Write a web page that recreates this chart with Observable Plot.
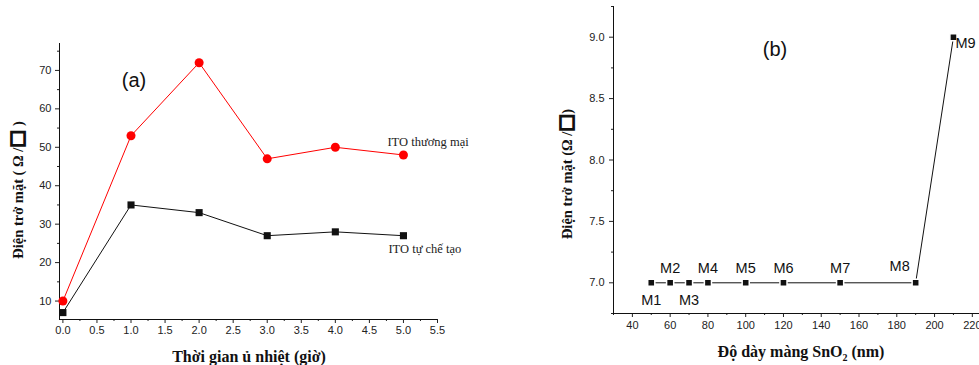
<!DOCTYPE html>
<html><head><meta charset="utf-8">
<script src="https://cdn.jsdelivr.net/npm/d3@7"></script>
<script src="https://cdn.jsdelivr.net/npm/@observablehq/plot@0.6"></script>
<style>
body{margin:0;background:#fff;overflow:hidden;}
#wrap{position:relative;width:979px;height:365px;overflow:hidden;background:#fff;}
.pane{position:absolute;top:0;}
.t{position:absolute;white-space:nowrap;color:#111;}
.ttl{font-family:"Liberation Serif","Times New Roman",serif;font-weight:bold;font-size:14.5px;}
.xt{font-size:16px;}
.rot{transform:translate(-50%,-50%) rotate(-90deg);}
.ctr{transform:translate(-50%,-50%);}
.box{font-family:"DejaVu Sans",sans-serif;font-size:19px;font-weight:bold;line-height:14px;-webkit-text-stroke:1.6px #111;}
.pl{font-family:"Liberation Sans",Arial,sans-serif;font-size:20px;}
</style></head>
<body>
<div id="wrap">
  <div id="pa" class="pane" style="left:0"></div>
  <div id="pb" class="pane" style="left:480px"></div>
  <div class="t ttl rot" style="left:18px;top:190px">Điện trở mặt ( Ω /<span class="box">□</span> )</div>
  <div class="t ttl xt ctr" style="left:249px;top:357px">Thời gian ủ nhiệt (giờ)</div>
  <div class="t pl ctr" style="left:134px;top:80px">(a)</div>
  <div class="t ttl rot" style="left:567px;top:174px">Điện trở mặt (Ω /<span class="box">□</span>)</div>
  <div class="t ttl xt ctr" style="left:801px;top:353px">Độ dày màng SnO<sub style="font-size:10px">2</sub> (nm)</div>
  <div class="t pl ctr" style="left:775px;top:49px">(b)</div>
</div>
<script>
// ---- Panel (a) data ----
const hours = [0, 1, 2, 3, 4, 5];
const commercialITO = [10, 53, 72, 47, 50, 48];
const homemadeITO = [7, 35, 33, 27, 28, 27];
const seriesNamesA = ["ITO thương mại", "ITO tự chế tạo"];
const xTicksA = [0, 0.5, 1, 1.5, 2, 2.5, 3, 3.5, 4, 4.5, 5, 5.5];
const yTicksA = [10, 20, 30, 40, 50, 60, 70];

// ---- Panel (b) data ----
const sampleNames = ["M1", "M2", "M3", "M4", "M5", "M6", "M7", "M8", "M9"];
const thickness = [50, 60, 70, 80, 100, 120, 150, 190, 210];
const resistance = [7.0, 7.0, 7.0, 7.0, 7.0, 7.0, 7.0, 7.0, 9.0];
const labelSide = ["below", "above", "below", "above", "above", "above", "above", "aboveleft", "right"];
const xTicksB = [40, 60, 80, 100, 120, 140, 160, 180, 200, 220];
const yTicksB = [7.0, 7.5, 8.0, 8.5, 9.0];

const font = "'Liberation Sans', Arial, sans-serif";
const serif = "'Liberation Serif', 'Times New Roman', serif";

const rowsA = hours.map((h, i) => ({h, c: commercialITO[i], m: homemadeITO[i]}));
const xDomA = [-0.05, 5.5], yDomA = [5.2, 77];
const minorXA = d3.range(0.25, 5.5, 0.5);
const minorYA = d3.range(15, 77, 10);

const plotA = Plot.plot({
  width: 480, height: 365,
  marginLeft: 59, marginRight: 43, marginTop: 43, marginBottom: 46,
  x: {domain: xDomA}, y: {domain: yDomA},
  style: {fontFamily: font, fontSize: "11px", color: "#222", background: "transparent"},
  marks: [
    Plot.axisX({ticks: xTicksA, tickSize: 4, tickPadding: 3, tickFormat: d => d.toFixed(1), label: null}),
    Plot.axisX({ticks: minorXA, tickSize: 2, text: null, label: null}),
    Plot.axisY({ticks: yTicksA, tickSize: 4, tickPadding: 4, label: null}),
    Plot.axisY({ticks: minorYA, tickSize: 2, text: null, label: null}),
    Plot.ruleX([xDomA[0]], {stroke: "#111"}),
    Plot.ruleY([yDomA[0]], {stroke: "#111"}),
    Plot.line(rowsA, {x: "h", y: "c", stroke: "#ff0000", strokeWidth: 1}),
    Plot.line(rowsA, {x: "h", y: "m", stroke: "#111", strokeWidth: 1}),
    Plot.dot(rowsA, {x: "h", y: "c", r: 4.5, fill: "#ff0000", stroke: "none"}),
    Plot.dot(rowsA, {x: "h", y: "m", r: 4, symbol: "square", fill: "#111", stroke: "none"}),
    Plot.text([rowsA[rowsA.length - 1]], {x: "h", y: "c", text: () => seriesNamesA[0], textAnchor: "start", dx: -16, dy: -13, fontFamily: serif, fontSize: 12.5, fill: "#222"}),
    Plot.text([rowsA[rowsA.length - 1]], {x: "h", y: "m", text: () => seriesNamesA[1], textAnchor: "start", dx: -15, dy: 13, fontFamily: serif, fontSize: 12.5, fill: "#222"})
  ]
});
document.getElementById("pa").appendChild(plotA);

const rowsB = sampleNames.map((n, i) => ({n, t: thickness[i], r: resistance[i], side: labelSide[i]}));
const xDomB = [30, 223.8], yDomB = [6.75, 9.25];
const minorXB = d3.range(30, 224, 20);
const minorYB = d3.range(6.75, 9.3, 0.5);
const lab = (side, o) => Plot.text(rowsB.filter(d => d.side === side), {x: "t", y: "r", text: "n", fontFamily: font, fontSize: 14.5, fill: "#111", ...o});

const plotB = Plot.plot({
  width: 499, height: 365,
  marginLeft: 133, marginRight: 0, marginTop: 6, marginBottom: 52,
  x: {domain: xDomB}, y: {domain: yDomB},
  style: {fontFamily: font, fontSize: "11px", color: "#222", background: "transparent", overflow: "visible"},
  marks: [
    Plot.axisX({ticks: xTicksB, tickSize: 4, tickPadding: 4, label: null}),
    Plot.axisX({ticks: minorXB, tickSize: 2, text: null, label: null}),
    Plot.axisY({ticks: yTicksB, tickSize: 4, tickPadding: 5, tickFormat: d => d.toFixed(1), label: null}),
    Plot.axisY({ticks: minorYB, tickSize: 2, text: null, label: null}),
    Plot.ruleX([xDomB[0]], {stroke: "#111"}),
    Plot.ruleY([yDomB[0]], {stroke: "#111"}),
    Plot.line(rowsB, {x: "t", y: "r", stroke: "#111", strokeWidth: 1}),
    Plot.dot(rowsB, {x: "t", y: "r", r: 4, symbol: "square", fill: "#111", stroke: "#fff", strokeWidth: 1.5}),
    lab("above", {dy: -14}),
    lab("below", {dy: 18}),
    lab("aboveleft", {dx: -16, dy: -16}),
    lab("right", {textAnchor: "start", dx: 2, dy: 6})
  ]
});
document.getElementById("pb").appendChild(plotB);
</script>
</body></html>
